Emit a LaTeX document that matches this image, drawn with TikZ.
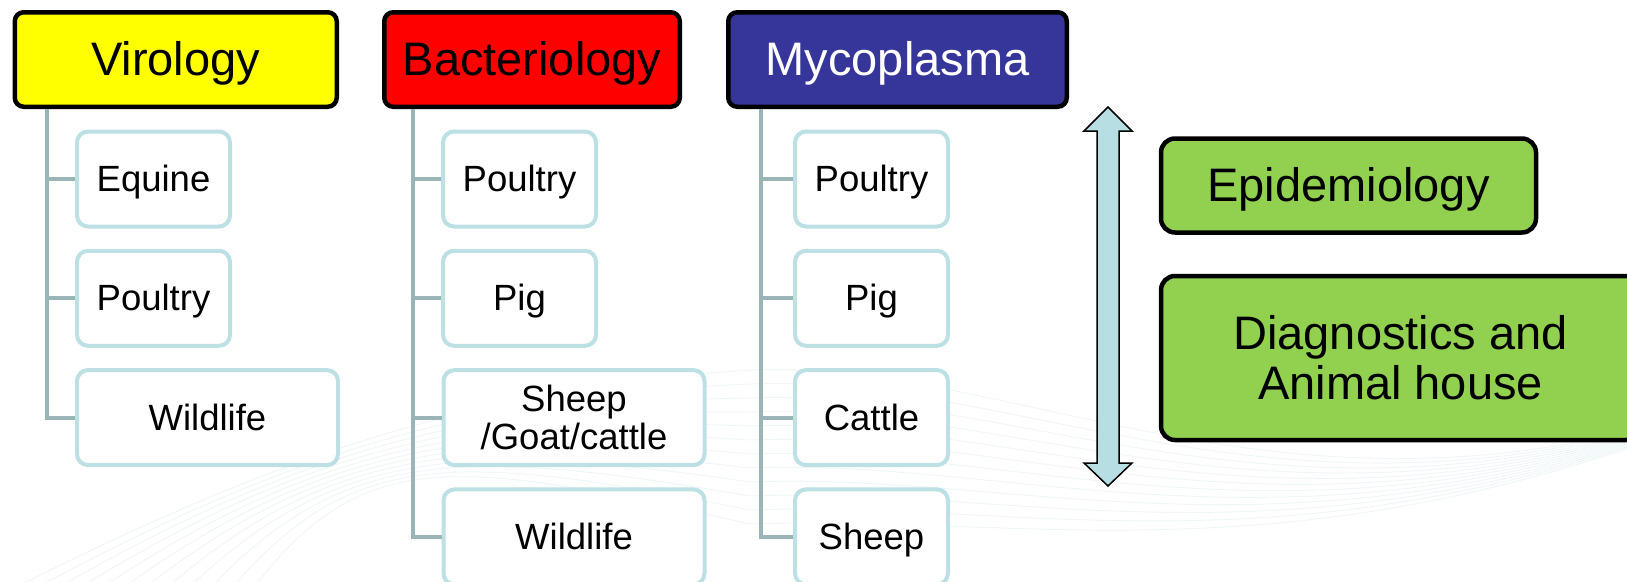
\documentclass[tikz,border=0pt]{standalone}
\usepackage{fontspec}
\setmainfont{Liberation Sans}
\definecolor{vyellow}{HTML}{FFFF00}
\definecolor{bred}{HTML}{FF0000}
\definecolor{mblue}{HTML}{363599}
\definecolor{egreen}{HTML}{92D050}
\definecolor{cborder}{HTML}{BCE0E4}
\definecolor{cline}{HTML}{9AB4B8}
\definecolor{arrowfill}{HTML}{B7DEE2}
\definecolor{swoosh}{HTML}{EEF6F8}
\begin{document}
\begin{tikzpicture}[x=1pt,y=-1pt,
  header/.style={draw=black,line width=4.5pt,rounded corners=9pt,minimum height=94.5pt,
    inner sep=0pt,outer sep=auto,text height=42.5pt,text depth=10pt,font=\fontsize{47}{50}\selectfont},
  child/.style={draw=cborder,fill=white,line width=4pt,rounded corners=11pt,minimum height=95pt,
    inner sep=0pt,outer sep=auto,align=center,font=\fontsize{36.5}{38.5}\selectfont},
  oneline/.style={text height=33pt,text depth=7.7pt},
  narrow/.style={minimum width=153pt},
  wide/.style={minimum width=261pt},
  conn/.style={draw=cline,line width=4pt},
  greenbox/.style={draw=black,fill=egreen,line width=4.5pt,rounded corners=14pt,inner sep=0pt,
    outer sep=auto,align=center,font=\fontsize{47}{50}\selectfont},
  swooshline/.style={draw=swoosh,line width=0.9pt}]
\useasboundingbox (0,0) rectangle (1627,581);
\clip (0,0) rectangle (1627,581);
\fill[white] (0,0) rectangle (1627,581);
% faint background swoosh
\foreach \i in {0,...,11}{
  \draw[swooshline] (10+\i*22,590) .. controls (250+\i*10,470-\i*2) and (450,390+\i*6) .. (750,370+\i*14)
    .. controls (1000,360+\i*14) and (1250,520+\i*5) .. (1627,432+\i*1.5);
}
% headers
\node[header,fill=vyellow,minimum width=322pt] (vir) at (175.75,59.5) {Virology};
\node[header,fill=bred,minimum width=295.5pt] (bac) at (532,59.5) {Bacteriology};
\node[header,fill=mblue,text=white,minimum width=338.5pt] (myc) at (897.5,59.5) {Mycoplasma};
% virology children
\node[child,oneline,narrow] (v1) at (153.5,179) {Equine};
\node[child,oneline,narrow] (v2) at (153.5,298.3) {Poultry};
\node[child,oneline,wide] (v3) at (207.5,417.6) {Wildlife};
% bacteriology children
\node[child,oneline,narrow] (b1) at (519.5,179) {Poultry};
\node[child,oneline,narrow] (b2) at (519.5,298.3) {Pig};
\node[child,wide] (b3) at (574,417.6) {Sheep\\/Goat/cattle};
\node[child,oneline,wide] (b4) at (574,536.9) {Wildlife};
% mycoplasma children
\node[child,oneline,narrow] (m1) at (871.5,179) {Poultry};
\node[child,oneline,narrow] (m2) at (871.5,298.3) {Pig};
\node[child,oneline,narrow] (m3) at (871.5,417.6) {Cattle};
\node[child,oneline,narrow] (m4) at (871.5,536.9) {Sheep};
% connector trunks
\coordinate (vx) at (47,0);
\coordinate (bx) at (412.7,0);
\coordinate (mx) at (761,0);
\draw[conn] (vir.south -| vx) |- (v3.west);
\draw[conn] (v1.west) -- (v1.west -| vx);
\draw[conn] (v2.west) -- (v2.west -| vx);
\draw[conn] (bac.south -| bx) |- (b4.west);
\draw[conn] (b1.west) -- (b1.west -| bx);
\draw[conn] (b2.west) -- (b2.west -| bx);
\draw[conn] (b3.west) -- (b3.west -| bx);
\draw[conn] (myc.south -| mx) |- (m4.west);
\draw[conn] (m1.west) -- (m1.west -| mx);
\draw[conn] (m2.west) -- (m2.west -| mx);
\draw[conn] (m3.west) -- (m3.west -| mx);
% double arrow
\draw[fill=arrowfill,draw=black,line width=1.5pt,line join=miter]
  (1108,107) -- (1132,131) -- (1119,131) -- (1119,463) -- (1132,463) -- (1108,486)
  -- (1084,463) -- (1097,463) -- (1097,131) -- (1084,131) -- cycle;
% green boxes
\node[greenbox,text height=42.5pt,text depth=10pt,minimum width=375pt,minimum height=94pt] (epi) at (1348.5,185.5) {Epidemiology};
\node[greenbox,minimum width=479pt,minimum height=164pt] (diag) at (1400.5,358) {Diagnostics and\\Animal house};
\end{tikzpicture}
\end{document}
